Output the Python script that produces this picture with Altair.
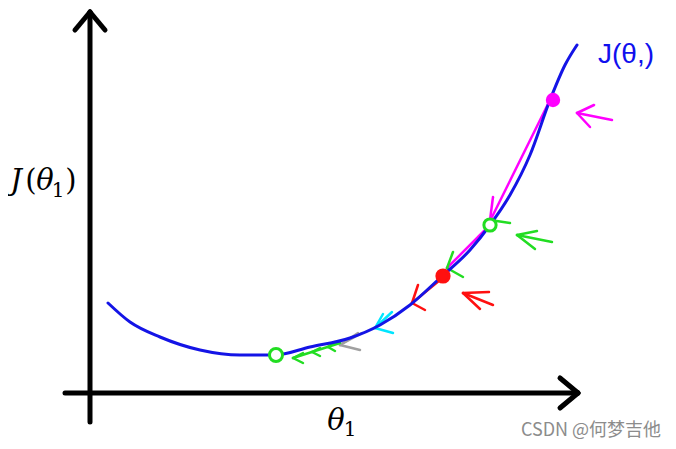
import altair as alt
import pandas as pd

# Cost curve J(theta1) (theta1, J units)
curve_theta = [0.18, 0.40, 0.70, 1.10, 1.50, 1.85, 2.20, 2.60, 2.90, 3.20, 3.50, 3.80, 4.00, 4.20, 4.40, 4.60, 4.75, 4.87]
curve_j =     [0.90, 0.71, 0.56, 0.43, 0.38, 0.38, 0.46, 0.55, 0.68, 0.88, 1.15, 1.43, 1.68, 1.98, 2.38, 2.93, 3.28, 3.48]

# Hand-drawn strokes: start (x, y) -> end (x2, y2), colour, width
seg_x  = [0.00, 0.00, 0.00, -0.25, 4.88, 4.88,
          4.60, 4.00, 4.00, 4.00, 3.57, 3.57, 3.50, 3.22, 3.22,
          3.02, 2.85, 2.85, 2.72, 2.50, 2.50,
          2.50, 2.03, 2.03, 2.22, 2.22, 2.38, 2.38,
          5.22, 4.87, 4.87, 4.62, 4.27, 4.27, 4.03, 3.73, 3.73]
seg_y  = [-0.29, 3.81, 3.81, 0.00, 0.00, 0.00,
          2.93, 1.68, 1.73, 1.73, 1.25, 1.25, 1.13, 0.90, 0.90,
          0.81, 0.65, 0.65, 0.60, 0.48, 0.48,
          0.50, 0.35, 0.35, 0.41, 0.41, 0.46, 0.46,
          2.73, 2.80, 2.80, 1.51, 1.58, 1.58, 0.88, 1.00, 1.00]
seg_x2 = [0.00, -0.15, 0.15, 4.88, 4.70, 4.70,
          4.02, 3.57, 4.03, 4.20, 3.63, 3.73, 3.22, 3.28, 3.35,
          2.85, 2.93, 3.03, 2.50, 2.68, 2.70,
          2.03, 2.13, 2.13, 2.30, 2.30, 2.45, 2.45,
          4.87, 5.04, 5.00, 4.27, 4.47, 4.45, 3.73, 3.99, 3.90]
seg_y2 = [3.81, 3.63, 3.63, 0.00, 0.15, -0.15,
          1.76, 1.25, 1.96, 1.70, 1.41, 1.16, 0.90, 1.08, 0.83,
          0.65, 0.79, 0.60, 0.48, 0.60, 0.43,
          0.35, 0.40, 0.30, 0.45, 0.37, 0.51, 0.42,
          2.80, 2.88, 2.66, 1.58, 1.62, 1.44, 1.00, 1.01, 0.84]
seg_col = (["#000000"] * 6 + ["#ff00ff"] * 3 + ["#22dd22"] * 3 + ["#ff1010"] * 3
           + ["#00e5ff"] * 3 + ["#a0a0a0"] * 3 + ["#22dd22"] * 7
           + ["#ff00ff"] * 3 + ["#22dd22"] * 3 + ["#ff1010"] * 3)
seg_w = [5] * 6 + [2.5] * 31

# Descent steps marked on the curve
pt_x = [4.63, 4.00, 3.53, 1.86]
pt_y = [2.93, 1.68, 1.17, 0.38]
pt_col = ["#ff00ff", "#22dd22", "#ff1010", "#22dd22"]
pt_fill = ["#ff00ff", "#ffffff", "#ff1010", "#ffffff"]
pt_size = [130, 150, 150, 170]

# Math labels, split into glyph pieces: J(θ₁) on the y side, θ₁ under the x axis
glyph_text  = ["J", "(", "θ", "1", ")", "θ", "1"]
glyph_x     = [-0.74, -0.59, -0.45, -0.32, -0.19, 2.46, 2.60]
glyph_y     = [2.03, 2.03, 2.03, 1.96, 2.03, -0.37, -0.43]
glyph_size  = [29, 29, 29, 20, 29, 29, 20]
glyph_style = ["italic", "normal", "italic", "normal", "normal", "italic", "normal"]

# Hand-written blue label and watermark
blue_label = "J(θ,)"
blue_x, blue_y = 5.36, 3.38
wm_text = "CSDN @何梦吉他"
wm_x, wm_y = 5.01, -0.38

W, H = 660, 433
xs = alt.Scale(domain=[-0.82, 5.78], nice=False, zero=False)
ys = alt.Scale(domain=[-0.48, 3.85], nice=False, zero=False)

curve = pd.DataFrame({"t": curve_theta, "j": curve_j})
segs = pd.DataFrame({"x": seg_x, "y": seg_y, "x2": seg_x2, "y2": seg_y2, "c": seg_col, "w": seg_w})
pts = pd.DataFrame({"x": pt_x, "y": pt_y, "c": pt_col, "f": pt_fill, "s": pt_size})
glyphs = pd.DataFrame({"text": glyph_text, "x": glyph_x, "y": glyph_y, "s": glyph_size, "st": glyph_style})

X = lambda f: alt.X(f, scale=xs, axis=None)
Y = lambda f: alt.Y(f, scale=ys, axis=None)

line = alt.Chart(curve).mark_line(color="#1414e6", strokeWidth=3, interpolate="monotone",
                                  strokeCap="round").encode(
    x=X("t:Q"), y=Y("j:Q"), order="t:Q",
)

rules = alt.Chart(segs).mark_rule(strokeCap="round").encode(
    x=X("x:Q"), y=Y("y:Q"), x2="x2:Q", y2="y2:Q",
    color=alt.Color("c:N", scale=None),
    strokeWidth=alt.StrokeWidth("w:Q", scale=None),
)

points = alt.Chart(pts).mark_point(shape="circle", strokeWidth=3, opacity=1).encode(
    x=X("x:Q"), y=Y("y:Q"),
    color=alt.Color("c:N", scale=None),
    fill=alt.Fill("f:N", scale=None),
    size=alt.Size("s:Q", scale=None),
)

glyph_layers = []
for style in ["italic", "normal"]:
    glyph_layers.append(
        alt.Chart(glyphs).transform_filter(alt.datum.st == style).mark_text(
            font="DejaVu Serif", fontStyle=style, baseline="alphabetic", color="#000000"
        ).encode(
            x=X("x:Q"), y=Y("y:Q"), text="text:N",
            size=alt.Size("s:Q", scale=None),
        )
    )

blue = alt.Chart(pd.DataFrame({"text": [blue_label], "x": [blue_x], "y": [blue_y]})).mark_text(
    font="Liberation Sans", fontSize=28, color="#1010ee").encode(
    x=X("x:Q"), y=Y("y:Q"), text="text:N",
)

wm = alt.Chart(pd.DataFrame({"text": [wm_text], "x": [wm_x], "y": [wm_y]})).mark_text(
    font="Noto Sans CJK SC", fontSize=18, color="#8c8c8c").encode(
    x=X("x:Q"), y=Y("y:Q"), text="text:N",
)

chart = alt.layer(rules, line, points, *glyph_layers, blue, wm).properties(
    width=W, height=H, padding=0, autosize=alt.AutoSizeParams(type="none"),
    background="#ffffff",
).configure_view(stroke=None)

chart.save("out.html", embed_options={"renderer": "svg", "actions": False})
